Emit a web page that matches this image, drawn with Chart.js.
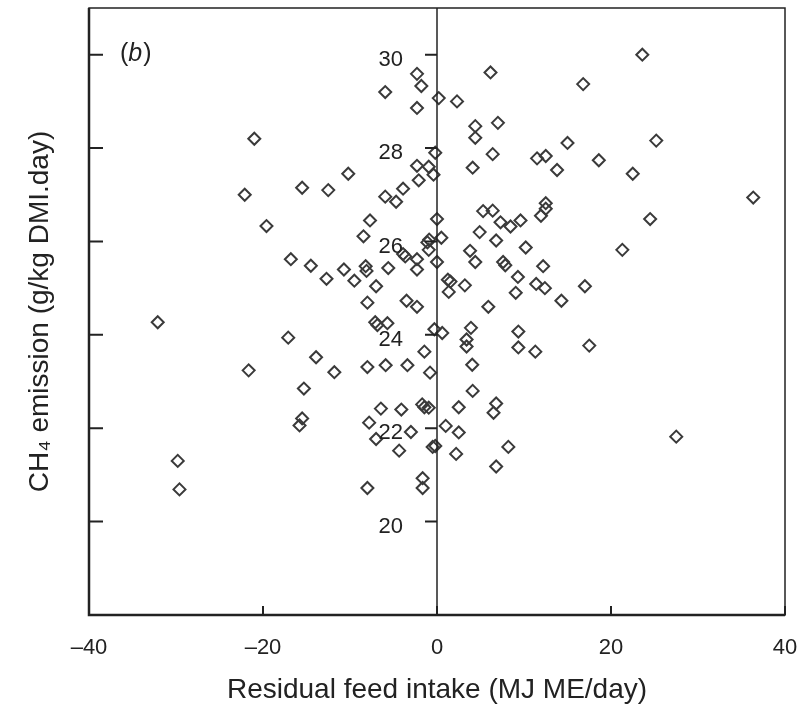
<!DOCTYPE html>
<html>
<head>
<meta charset="utf-8">
<script src="https://cdn.jsdelivr.net/npm/chart.js@4.4.1/dist/chart.umd.min.js"></script>
<style>
  html, body { margin: 0; padding: 0; background: #fff; }
</style>
</head>
<body>
<canvas id="rfiChart" width="806" height="713"></canvas>
<script>
// Residual feed intake (x) and CH4 emission (y)
const rfi = [
  -21.0, -22.1, -15.5, -12.5, -10.2, -19.6, -16.8, -14.5, -12.7, -2.3,
  -1.8, -5.95, 0.2, 2.3, -2.3, 4.4, 4.4, 4.1, -0.2, -2.3,
  -0.95, -0.4, -2.1, -3.9, -5.95, -4.7, -7.7, -8.45, 0.0, -0.9,
  -1.1, 0.5, -3.65, -3.9, -2.3, -0.95, 0.0, -2.3, -5.6, -8.2,
  -8.1, -10.7, -9.5, -7.0, 1.25, 1.55, 3.2, 5.3, 4.9, 3.8,
  4.4, 6.15, 23.6, 16.8, 7.0, 6.4, 15.0, 25.2, 11.5, 12.5,
  13.8, 18.6, 22.5, 36.35, 12.5, 12.5, 11.95, 6.4, 7.3, 8.45,
  9.6, 24.5, 6.8, 10.2, 21.3, 7.6, 7.85, 12.2, 9.3, 11.4,
  12.4, 17.0, 9.05, 5.9, 14.3, 9.35, 9.35, 11.3, 17.5, 3.9,
  3.4, 3.4, 4.05, 4.1, 6.8, 6.5, 8.2, 6.8, 27.5, -8.0,
  -3.5, -2.3, 1.35, -6.85, -7.1, -5.7, -0.3, 0.6, -1.45, -11.8,
  -8.0, -5.9, -3.4, -0.8, -6.45, -4.1, -1.7, -1.45, -0.95, -7.8,
  -7.0, -3.0, 1.0, 2.5, 2.5, 2.2, -4.35, -0.5, -0.2, -8.0,
  -1.65, -1.65, -32.1, -17.1, -13.9, -21.65, -15.3, -15.5, -15.8, -29.8,
  -29.6
];
const ch4 = [
  28.2, 27.0, 27.15, 27.1, 27.45, 26.33, 25.62, 25.48, 25.2, 29.59,
  29.33, 29.2, 29.07, 29.0, 28.86, 28.47, 28.22, 27.58, 27.9, 27.62,
  27.6, 27.43, 27.31, 27.13, 26.96, 26.85, 26.45, 26.11, 26.48, 26.04,
  25.98, 26.08, 25.68, 25.73, 25.62, 25.82, 25.56, 25.4, 25.43, 25.47,
  25.37, 25.4, 25.16, 25.04, 25.18, 25.14, 25.06, 26.65, 26.2, 25.8,
  25.56, 29.62, 30.0, 29.37, 28.54, 27.87, 28.11, 28.16, 27.78, 27.83,
  27.53, 27.74, 27.45, 26.94, 26.82, 26.7, 26.55, 26.66, 26.41, 26.32,
  26.45, 26.48, 26.02, 25.87, 25.82, 25.56, 25.49, 25.47, 25.24, 25.09,
  25.0, 25.04, 24.9, 24.6, 24.73, 24.07, 23.73, 23.64, 23.77, 24.15,
  23.9, 23.75, 23.36, 22.8, 22.53, 22.33, 21.6, 21.18, 21.82, 24.69,
  24.73, 24.6, 24.92, 24.21, 24.27, 24.25, 24.12, 24.04, 23.64, 23.2,
  23.31, 23.35, 23.35, 23.19, 22.42, 22.4, 22.51, 22.45, 22.44, 22.12,
  21.77, 21.92, 22.05, 22.45, 21.91, 21.45, 21.52, 21.6, 21.62, 20.72,
  20.93, 20.72, 24.27, 23.94, 23.52, 23.24, 22.85, 22.21, 22.06, 21.3,
  20.69
];
const xTicks = [-40, -20, 0, 20, 40];
const yTicks = [20, 22, 24, 26, 28, 30];

const ink = "#222";
const fontFamily = "'Liberation Sans', Arial, Helvetica, sans-serif";

// Box, centre line at x = 0, inward tick marks, y labels and the panel tag
const framePlugin = {
  id: "frame",
  afterDatasetsDraw(chart) {
    const { ctx, chartArea: a, scales: { x, y } } = chart;
    const x0 = x.getPixelForValue(0);
    ctx.save();
    ctx.strokeStyle = ink;
    ctx.lineWidth = 1.5;
    ctx.strokeRect(a.left, a.top, a.right - a.left, a.bottom - a.top);

    ctx.lineWidth = 2.5;
    ctx.beginPath();
    ctx.moveTo(a.left, a.top);
    ctx.lineTo(a.left, a.bottom);
    ctx.lineTo(a.right, a.bottom);
    ctx.stroke();

    ctx.lineWidth = 1.5;
    ctx.beginPath();
    ctx.moveTo(x0, a.top);
    ctx.lineTo(x0, a.bottom);
    ctx.stroke();

    ctx.lineWidth = 2;
    ctx.beginPath();
    yTicks.forEach(v => {
      const py = y.getPixelForValue(v);
      ctx.moveTo(a.left, py);
      ctx.lineTo(a.left + 14, py);
      ctx.moveTo(x0 - 12, py);
      ctx.lineTo(x0, py);
    });
    xTicks.forEach(v => {
      const px = x.getPixelForValue(v);
      ctx.moveTo(px, a.bottom);
      ctx.lineTo(px, a.bottom - 9);
    });
    ctx.stroke();

    // y tick labels sit beside the centre line
    ctx.fillStyle = ink;
    ctx.font = "22px " + fontFamily;
    ctx.textAlign = "right";
    ctx.textBaseline = "middle";
    yTicks.forEach(v => {
      ctx.fillText(String(v), x0 - 34, y.getPixelForValue(v) + 5);
    });

    // (b) with italic letter
    ctx.textAlign = "left";
    let tx = a.left + 31;
    const ty = a.top + 46;
    ctx.font = "25px " + fontFamily;
    ctx.fillText("(", tx, ty);
    tx += ctx.measureText("(").width;
    ctx.font = "italic 25px " + fontFamily;
    ctx.fillText("b", tx, ty);
    tx += ctx.measureText("b").width + 1;
    ctx.font = "25px " + fontFamily;
    ctx.fillText(")", tx, ty);
    ctx.restore();
  }
};

new Chart(document.getElementById("rfiChart"), {
  type: "scatter",
  data: {
    datasets: [
      {
        data: rfi.map((v, i) => ({ x: v, y: ch4[i] })),
        pointStyle: "rectRot",
        pointRadius: 6,
        pointHoverRadius: 6,
        borderWidth: 2,
        borderColor: "#3a3a3a",
        backgroundColor: "rgba(0,0,0,0)",
      },
    ],
  },
  options: {
    responsive: false,
    animation: false,
    devicePixelRatio: 1,
    layout: { padding: { top: 8, right: 21, left: 0, bottom: 0 } },
    plugins: {
      legend: { display: false },
      tooltip: { enabled: false },
    },
    scales: {
      x: {
        type: "linear",
        min: -40,
        max: 40,
        afterBuildTicks: s => { s.ticks = xTicks.map(v => ({ value: v })); },
        afterFit: s => {
          s.height = 98;
          s.paddingLeft = 0;
          s.paddingRight = 0;
        },
        grid: { display: false, drawTicks: false },
        border: { display: false },
        ticks: {
          padding: 20,
          color: ink,
          font: { size: 22, family: fontFamily },
          callback: v => (v < 0 ? "\u2013" + Math.abs(v) : String(v)),
        },
        title: {
          display: true,
          text: "Residual feed intake (MJ ME/day)",
          color: ink,
          font: { size: 28, family: fontFamily },
          padding: { top: 0, bottom: 6 },
        },
      },
      y: {
        type: "linear",
        min: 18,
        max: 31,
        afterBuildTicks: s => { s.ticks = yTicks.map(v => ({ value: v })); },
        afterFit: s => { s.width = 89; },
        grid: { display: false },
        border: { display: false },
        ticks: { display: false },
        title: {
          display: true,
          text: "CH\u2084 emission (g/kg DMI.day)",
          color: ink,
          font: { size: 28, family: fontFamily },
          padding: { top: 23, bottom: 0 },
        },
      },
    },
  },
  plugins: [framePlugin],
});
</script>
</body>
</html>
